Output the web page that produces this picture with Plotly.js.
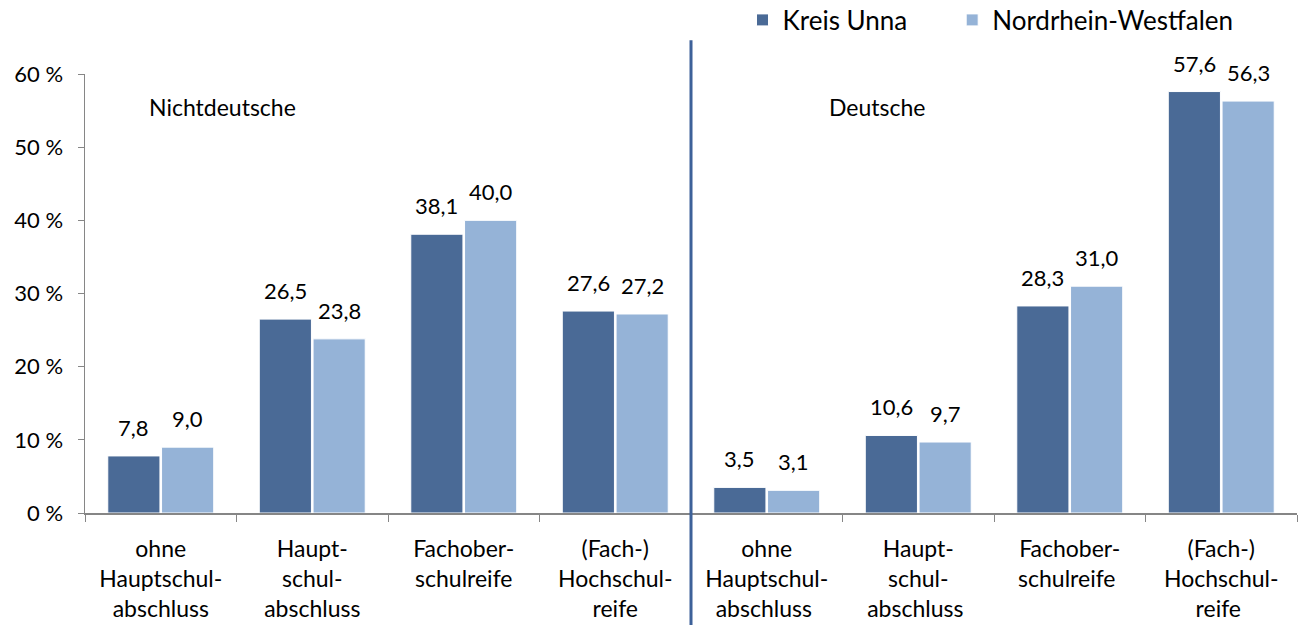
<!DOCTYPE html>
<html>
<head>
<meta charset="utf-8">
<script src="https://cdn.plot.ly/plotly-3.0.1.min.js"></script>
<style>html,body{margin:0;padding:0;background:#fff;}#chart{width:1299px;height:625px;}</style>
</head>
<body>
<div id="chart"></div>
<script>
const categories = [
  "ohne<br>Hauptschul-<br>abschluss", "Haupt-<br>schul-<br>abschluss", "Fachober-<br>schulreife", "(Fach-)<br>Hochschul-<br>reife",
  "ohne<br>Hauptschul-<br>abschluss ", "Haupt-<br>schul-<br>abschluss ", "Fachober-<br>schulreife ", "(Fach-)<br>Hochschul-<br>reife "
];
const seriesNames = ["Kreis Unna", "Nordrhein-Westfalen"];
const kreisUnna = [7.8, 26.5, 38.1, 27.6, 3.5, 10.6, 28.3, 57.6];
const nrw = [9.0, 23.8, 40.0, 27.2, 3.1, 9.7, 31.0, 56.3];
const groupLabels = ["Nichtdeutsche", "Deutsche"];
const yTicks = [0, 10, 20, 30, 40, 50, 60];

const FONT = "Lato, Carlito, 'Open Sans', sans-serif";
const dark = "#4A6A96", light = "#95B3D7";

function barTrace(name, vals, color, legendId) {
  return {
    type: "bar", name: name, x: categories, y: vals, legend: legendId,
    marker: {color: color, line: {color: "#ffffff", width: 1}},
    hoverinfo: "none"
  };
}

const data = [barTrace(seriesNames[0], kreisUnna, dark, "legend"),
              barTrace(seriesNames[1], nrw, light, "legend2")];

function fmt(v) { return v.toFixed(1).replace(".", ","); }
const valueLabels = [];
[[kreisUnna, -27], [nrw, 27]].forEach(([vals, dx]) => {
  vals.forEach((v, i) => {
    valueLabels.push({text: fmt(v), xref: "x", yref: "y", x: categories[i], y: v,
      xshift: dx, yshift: 13, yanchor: "bottom", showarrow: false,
      font: {family: FONT, size: 22, color: "#000"}});
  });
});

const legendBase = {orientation: "h", xanchor: "left", y: 1.123, yanchor: "middle",
  font: {family: FONT, size: 26, color: "#000"}, itemclick: false, bgcolor: "rgba(0,0,0,0)"};

const layout = {
  width: 1299, height: 625,
  margin: {l: 85, r: 2, t: 74, b: 112, autoexpand: false},
  paper_bgcolor: "#fff", plot_bgcolor: "#fff",
  font: {family: FONT, size: 22, color: "#000"},
  separators: ",.",
  barmode: "group", bargap: 0.29, bargroupgap: 0.03,
  showlegend: true,
  legend: Object.assign({}, legendBase, {x: 0.5425}),
  legend2: Object.assign({}, legendBase, {x: 0.7155}),
  xaxis: {type: "category", showline: true, linecolor: "#868686", linewidth: 1.5,
          ticks: "outside", tickson: "boundaries", ticklen: 7, tickcolor: "#868686",
          ticklabelstandoff: 15,
          tickfont: {family: FONT, size: 23, color: "#000"}, showgrid: false, fixedrange: true},
  yaxis: {range: [0, 60], tickvals: yTicks, ticktext: yTicks.map(v => v + " %"),
          showline: true, linecolor: "#868686", linewidth: 1.5, ticks: "outside", ticklen: 6,
          tickcolor: "#868686", showgrid: false, zeroline: false, ticklabelstandoff: 10,
          tickfont: {family: FONT, size: 22, color: "#000"}, fixedrange: true},
  shapes: [{type: "line", xref: "x", yref: "paper", x0: 3.5, x1: 3.5, y0: -0.255, y1: 1.077,
            line: {color: "#3D6199", width: 3}}],
  annotations: [
    {text: groupLabels[0], xref: "x", yref: "y", x: 0.41, y: 55.5, showarrow: false,
     font: {family: FONT, size: 23, color: "#000"}},
    {text: groupLabels[1], xref: "x", yref: "y", x: 4.73, y: 55.5, showarrow: false,
     font: {family: FONT, size: 23, color: "#000"}}
  ].concat(valueLabels)
};

Plotly.newPlot("chart", data, layout, {displayModeBar: false, staticPlot: true});
</script>
</body>
</html>
